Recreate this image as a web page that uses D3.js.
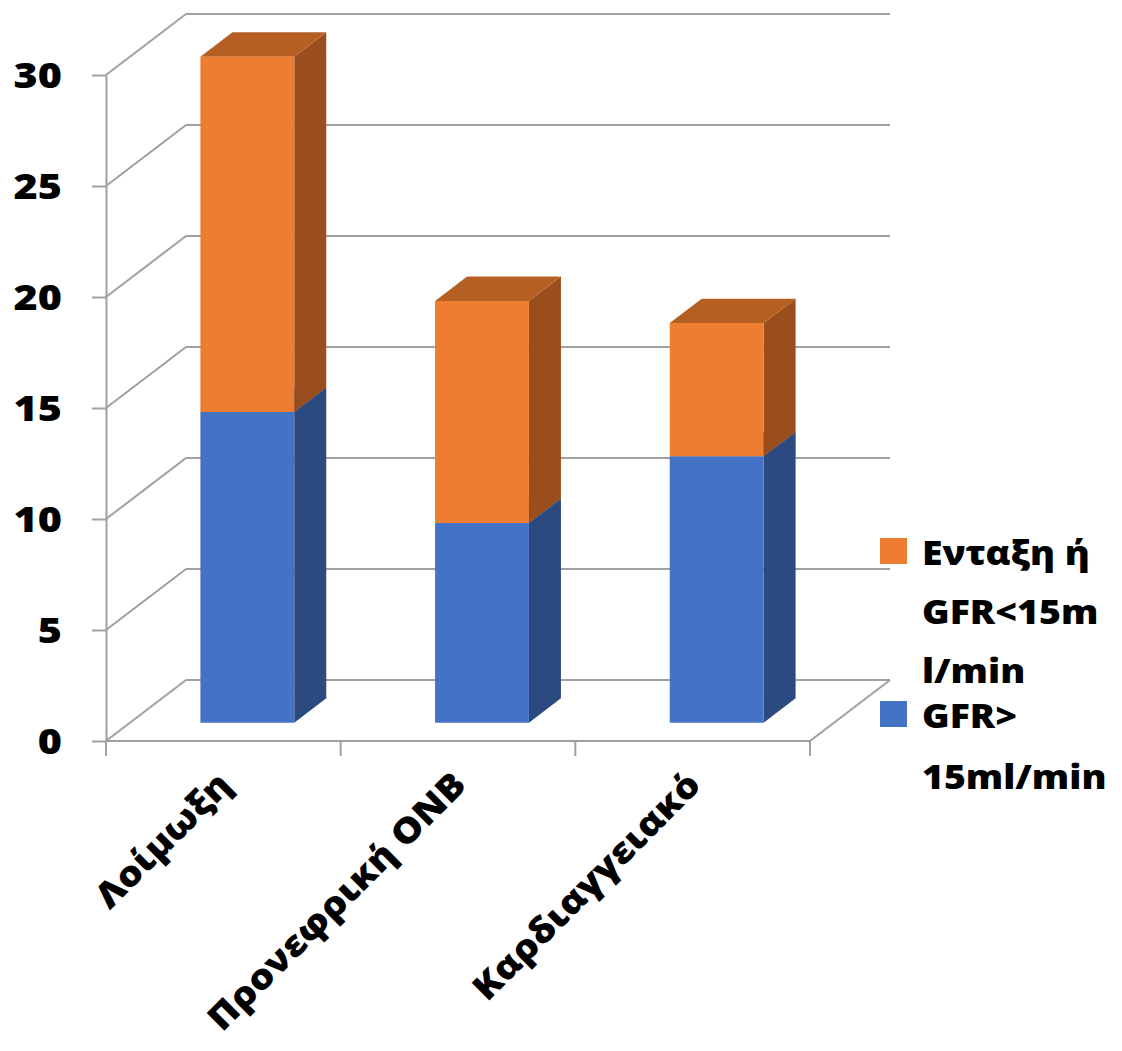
<!DOCTYPE html>
<html>
<head>
<meta charset="utf-8">
<script src="https://cdn.jsdelivr.net/npm/d3@7"></script>
<style>
  html, body { margin: 0; padding: 0; background: #ffffff; }
  svg { display: block; }
  text { font-family: "Open Sans", "DejaVu Sans", sans-serif; font-weight: 800; fill: #000; }
</style>
</head>
<body>
<svg id="chart" width="1122" height="1051"></svg>
<script>
// Categories and stacked series
const categories = ["Λοίμωξη", "Προνεφρική ΟΝΒ", "Καρδιαγγειακό"];
const gfrAbove15 = [14, 9, 12];          // GFR> 15ml/min
const dialysisOrBelow15 = [16, 10, 6];   // Ενταξη ή GFR<15ml/min
const yTicks = [0, 5, 10, 15, 20, 25, 30];

const seriesNames = ["GFR> 15ml/min", "Ενταξη ή GFR<15ml/min"];
const seriesValues = [gfrAbove15, dialysisOrBelow15];
const seriesColors = [
  { front: "#4472C4", side: "#2A4A80", top: "#3A62A8" },
  { front: "#ED7D31", side: "#9A4E1E", top: "#B55F23" }
];
const legendLines = [
  ["Ενταξη ή", "GFR<15m", "l/min"],
  ["GFR>", "15ml/min"]
];
const legendColors = [seriesColors[1].front, seriesColors[0].front];

const svg = d3.select("#chart");
const gridColor = "#A0A0A0";
const tickScale = 1.18;    // wide bold lettering
const labelScale = 1.1;
const legendScale = 1.1;

// Front plane scales
const x = d3.scaleBand().domain(categories).range([106, 810]).paddingInner(0).paddingOuter(0);
const y = d3.scaleLinear().domain([0, 30]).range([741, 75]);

// Oblique depth of the plot box (back wall offset)
const depthDx = 80, depthDy = -61;
const proj = (px, v, z) => [px + z * depthDx, y(v) + z * depthDy];

const barFrac = 0.4;        // bar width as a share of the band
const zFront = 0.3, zBack = 0.7;

const grid = svg.append("g");

// Back wall grid lines and left wall slants
yTicks.forEach(t => {
  const f = proj(x.range()[0], t, 0);
  const b = proj(x.range()[0], t, 1);
  grid.append("line").attr("x1", f[0]).attr("y1", f[1]).attr("x2", b[0]).attr("y2", b[1])
    .attr("stroke", gridColor).attr("stroke-width", 2);
  const end = proj(x.range()[1], t, 1);
  grid.append("line").attr("x1", b[0]).attr("y1", b[1]).attr("x2", end[0]).attr("y2", end[1])
    .attr("stroke", gridColor).attr("stroke-width", 2);
});

// Floor outline: front edge and right slant
{
  const fl = proj(x.range()[0], 0, 0), fr = proj(x.range()[1], 0, 0), br = proj(x.range()[1], 0, 1);
  grid.append("path").attr("d", d3.line()([fl, fr, br]))
    .attr("fill", "none").attr("stroke", gridColor).attr("stroke-width", 2);
}

// Category boundary ticks under the floor
const boundaries = categories.map(c => x(c)).concat([x.range()[1]]);
boundaries.forEach(bx => {
  grid.append("line").attr("x1", bx).attr("x2", bx).attr("y1", y(0)).attr("y2", y(0) + 15)
    .attr("stroke", gridColor).attr("stroke-width", 2);
});

// Value axis
const yAxis = d3.axisLeft(y).tickValues(yTicks).tickSize(14).tickSizeOuter(0);
const ag = svg.append("g").attr("transform", `translate(${x.range()[0]},0)`).call(yAxis);
ag.select(".domain").attr("stroke", gridColor).attr("stroke-width", 2);
ag.selectAll(".tick line").attr("stroke", gridColor).attr("stroke-width", 2);
ag.selectAll(".tick text")
  .attr("x", -44 / tickScale).attr("dy", "0.36em")
  .attr("transform", `scale(${tickScale},1)`)
  .style("font-size", "35px").style("font-family", "'Open Sans', sans-serif")
  .style("font-weight", 800).attr("fill", "#000");

// Stacked 3D bars
const bars = svg.append("g");
categories.forEach((c, i) => {
  const bw = x.bandwidth() * barFrac;
  const x0 = x(c) + (x.bandwidth() - bw) / 2, x1 = x0 + bw;
  let base = 0;
  seriesValues.forEach((vals, s) => {
    const v0 = base, v1 = base + vals[i];
    base = v1;
    const col = seriesColors[s];
    const fbl = proj(x0, v0, zFront), fbr = proj(x1, v0, zFront);
    const ftl = proj(x0, v1, zFront), ftr = proj(x1, v1, zFront);
    const bbr = proj(x1, v0, zBack), btr = proj(x1, v1, zBack), btl = proj(x0, v1, zBack);
    // side face
    bars.append("path").attr("d", d3.line()([fbr, bbr, btr, ftr]) + "Z").attr("fill", col.side);
    // top face
    bars.append("path").attr("d", d3.line()([ftl, ftr, btr, btl]) + "Z").attr("fill", col.top);
    // front face
    bars.append("path").attr("d", d3.line()([fbl, fbr, ftr, ftl]) + "Z").attr("fill", col.front);
  });
});

// Rotated category labels
const labels = svg.append("g");
categories.forEach(c => {
  const cx = x(c) + x.bandwidth() / 2 + 10;
  labels.append("g")
    .attr("transform", `translate(${cx},${y(0) + 46}) rotate(-45) scale(${labelScale},1)`)
    .append("text")
    .attr("text-anchor", "end")
    .style("font-size", "35px")
    .text(c);
});

// Legend
const legend = svg.append("g");
const legendX = 880, textX = 922;
const entryBaselines = [[565, 624, 683], [728, 789]];
legendLines.forEach((lines, k) => {
  const firstBase = entryBaselines[k][0];
  legend.append("rect").attr("x", legendX).attr("y", firstBase - 27)
    .attr("width", 27).attr("height", 26).attr("fill", legendColors[k]);
  lines.forEach((ln, j) => {
    legend.append("g")
      .attr("transform", `translate(${textX},${entryBaselines[k][j]}) scale(${legendScale},1)`)
      .append("text").style("font-size", "34px").text(ln);
  });
});
</script>
</body>
</html>
